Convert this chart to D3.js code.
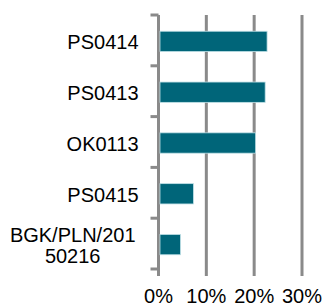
<!DOCTYPE html>
<html>
<head>
<meta charset="utf-8">
<script src="https://cdn.jsdelivr.net/npm/d3@7"></script>
<style>
  body { margin: 0; background: #fff; }
  text { font-family: "Liberation Sans", Arial, sans-serif; fill: #000; }
</style>
</head>
<body>
<div id="plot"></div>
<script>
// bar chart data, values are shares
const categories = ["PS0414", "PS0413", "OK0113", "PS0415", "BGK/PLN/201\n50216"];
const values = [0.227, 0.223, 0.203, 0.073, 0.046];
const xTicks = [0, 0.1, 0.2, 0.3];

const svgWidth = 324;
const svgHeight = 306;
const margin = { top: 15, right: 22, bottom: 37, left: 158.5 };
const width = svgWidth - margin.left - margin.right;
const height = svgHeight - margin.top - margin.bottom;

const gridColor = "#8a8a8a";
const barColor = "#006579";

const svg = d3
  .select("div#plot")
  .append("svg")
  .attr("width", svgWidth)
  .attr("height", svgHeight)
  .append("g")
  .attr("transform", "translate(" + margin.left + "," + margin.top + ")");

const xScale = d3.scaleLinear().domain([0, 0.3]).range([0, width]);

const yScale = d3
  .scaleBand()
  .domain(categories)
  .range([0, height])
  .paddingInner(0.6)
  .paddingOuter(0.3);

// band boundaries for the little ticks on the left
const step = yScale.step();
const bounds = d3.range(categories.length + 1).map((i) => i * step);

// vertical gridlines (run a bit below the plot as tick marks)
svg
  .selectAll(".grid")
  .data(xTicks)
  .enter()
  .append("line")
  .attr("class", "grid")
  .attr("x1", (d) => xScale(d))
  .attr("x2", (d) => xScale(d))
  .attr("y1", 0)
  .attr("y2", height + 7)
  .style("stroke", gridColor)
  .style("stroke-width", 3);

// category ticks left of the axis
svg
  .selectAll(".ytick")
  .data(bounds)
  .enter()
  .append("line")
  .attr("class", "ytick")
  .attr("x1", -8)
  .attr("x2", 0)
  .attr("y1", (d) => d)
  .attr("y2", (d) => d)
  .style("stroke", gridColor)
  .style("stroke-width", 3);

// bars
svg
  .selectAll(".bar")
  .data(values)
  .enter()
  .append("rect")
  .attr("class", "bar")
  .attr("x", xScale(0) + 1.5)
  .attr("y", (d, i) => yScale(categories[i]) + 1)
  .attr("width", (d) => xScale(d) - xScale(0) - 1.5)
  .attr("height", yScale.bandwidth())
  .style("fill", barColor)
  .style("stroke", "#bfe0e7")
  .style("stroke-width", 0.8);

// x tick labels
svg
  .selectAll(".xlabel")
  .data(xTicks)
  .enter()
  .append("text")
  .attr("class", "xlabel")
  .attr("x", (d) => xScale(d))
  .attr("y", height + 33.5)
  .style("text-anchor", "middle")
  .style("font-size", "20px")
  .text((d) => d3.format(".0%")(d));

// category labels, wrapped ones are centred under each other
const labelRight = -20;
const lineHeight = 20.5;
const labels = svg
  .selectAll(".ylabel")
  .data(categories)
  .enter()
  .append("text")
  .attr("class", "ylabel")
  .style("font-size", "20px")
  .each(function (d, i) {
    const lines = d.split("\n");
    const el = d3.select(this);
    const cy = yScale(d) + yScale.bandwidth() / 2 + 2;
    const y0 = cy - ((lines.length - 1) * lineHeight) / 2;
    lines.forEach((t, j) => {
      el.append("tspan").attr("y", y0 + j * lineHeight).attr("dy", "0.35em").text(t);
    });
    if (lines.length === 1) {
      el.style("text-anchor", "end").selectAll("tspan").attr("x", labelRight);
    } else {
      const w = d3.max(el.selectAll("tspan").nodes(), (n) => n.getComputedTextLength());
      el.style("text-anchor", "middle").selectAll("tspan").attr("x", labelRight - 3 - w / 2);
    }
  });
</script>
</body>
</html>
